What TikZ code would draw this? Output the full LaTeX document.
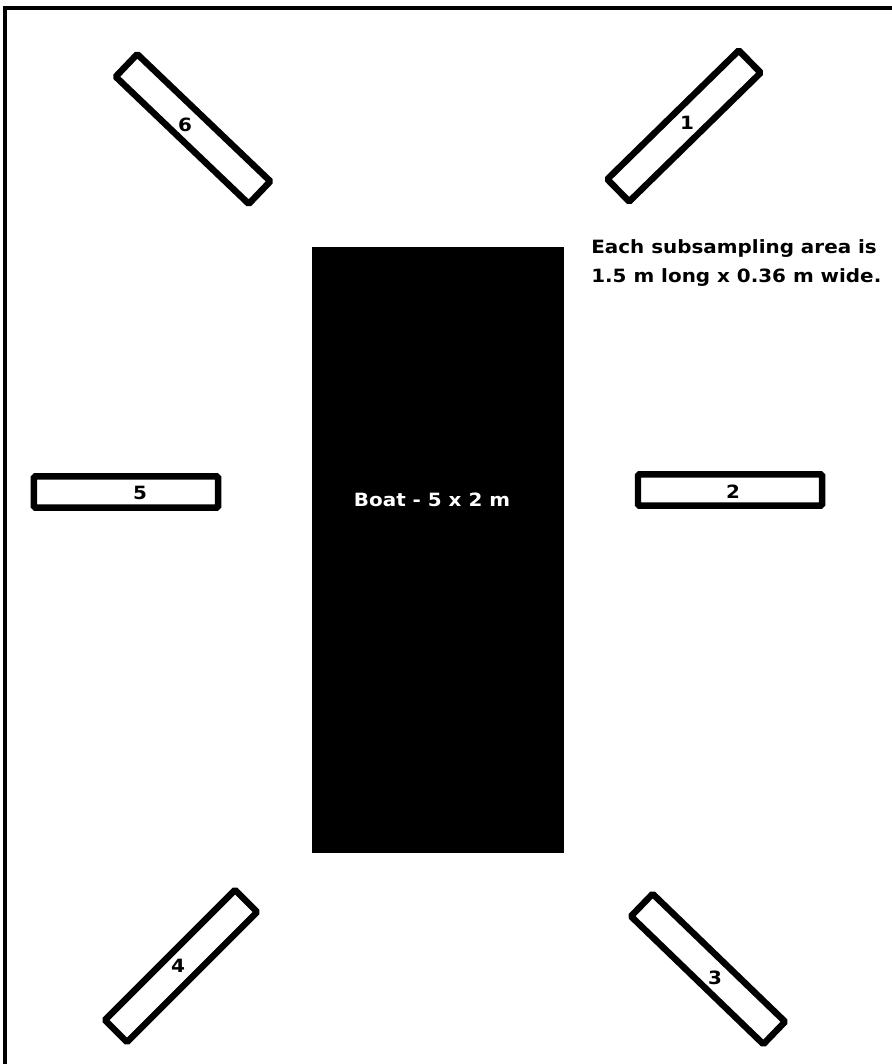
\documentclass[tikz,border=0pt]{standalone}
\usepackage{fontspec}
\usepackage{tikz}
\newfontfamily\pixelfont[FakeStretch=1.09]{DejaVu Sans}

\begin{document}
\begin{tikzpicture}[x=0.025cm,y=-0.025cm,
  quadrat/.style={draw=black,fill=white,line width=4.6pt,rounded corners=1pt,
    minimum width=4.6cm,minimum height=0.78cm,inner sep=0pt},
  boat/.style={fill=black,minimum width=6.3cm,minimum height=15.15cm,inner sep=0pt},
  tag/.style={font=\pixelfont\bfseries\fontsize{13}{15}\selectfont,inner sep=0pt},
  frame/.style={draw=black,line width=2.2pt}]
  \useasboundingbox (0,0) rectangle (892,1064);
  \draw[frame] (5,8) rectangle (910,1090);
  \node[boat] (boat) at (438,550) {};
  \node[tag,text=white] (boatlbl) at (432,500) {Boat - 5 x 2 m};
  % six subsampling areas round the boat
  \foreach \n/\x/\y/\r/\lx/\ly in {1/684/126/44.4/687/123, 2/730/490/0/733/492,
      3/708/969/-44/715/978, 4/181/966/45/178/966, 5/126/492/0/140/493,
      6/193/129/-43.7/185/125} {
    \node[quadrat,rotate=\r] (area\n) at (\x,\y) {};
    \node[tag] (num\n) at (\lx,\ly) {\n};
  }
  \node[tag,anchor=base west] (noteA) at (591,253) {Each subsampling area is};
  \node[tag,anchor=base west] (noteB) at (591,282) {1.5 m long x 0.36 m wide.};
\end{tikzpicture}
\end{document}
